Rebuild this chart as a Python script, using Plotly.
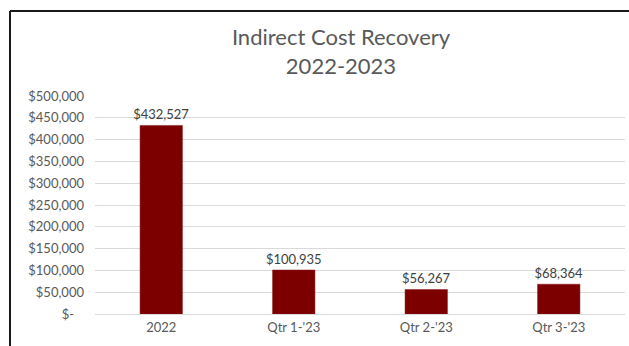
import plotly.graph_objects as go

categories = ["2022", "Qtr 1-'23", "Qtr 2-'23", "Qtr 3-'23"]
values = [432527, 100935, 56267, 68364]
tick_values = [0, 50000, 100000, 150000, 200000, 250000, 300000, 350000, 400000, 450000, 500000]
tick_labels = ["$-\u00a0\u00a0\u00a0", "$50,000", "$100,000", "$150,000", "$200,000", "$250,000",
               "$300,000", "$350,000", "$400,000", "$450,000", "$500,000"]

FONT = "Lato, Open Sans, sans-serif"
GRAY = "#595959"

fig = go.Figure(go.Bar(
    x=categories, y=values,
    width=0.32,
    marker=dict(color="#7D0000", line=dict(color="#8B1A1A", width=0.5)),
    text=[f"${v:,}" for v in values],
    textposition="outside",
    constraintext="none",
    textfont=dict(family=FONT, size=13, color="#404040"),
    cliponaxis=False,
))

L, R, T, B = 95, 4, 96, 32
W, H = 629, 346
pw = W - L - R
ph = H - T - B

fig.update_layout(
    width=W, height=H,
    margin=dict(l=L, r=R, t=T, b=B),
    paper_bgcolor="white", plot_bgcolor="white",
    showlegend=False,
    title=dict(text="Indirect Cost Recovery<br>2022-2023", x=341 / W, xanchor="center",
               y=1 - 45 / H, yanchor="middle",
               font=dict(family=FONT, size=22, color=GRAY)),
    xaxis=dict(showgrid=False, showline=False, ticks="",
               tickfont=dict(family=FONT, size=13, color=GRAY), ticklabelstandoff=4),
    yaxis=dict(range=[0, 500000], tickvals=tick_values, ticktext=tick_labels,
               showgrid=True, gridcolor="#D9D9D9", gridwidth=1,
               zeroline=True, zerolinecolor="#D9D9D9", zerolinewidth=1,
               showline=False, ticks="", ticklabelstandoff=10,
               tickfont=dict(family=FONT, size=13, color=GRAY)),
    shapes=[
        dict(type="line", xref="paper", yref="paper",
             x0=(10 - L) / pw, x1=(10 - L) / pw, y0=-0.5, y1=(H - B - 11) / ph,
             line=dict(color="#1a1a1a", width=2)),
        dict(type="line", xref="paper", yref="paper",
             x0=(10 - L) / pw, x1=(W + 10 - L) / pw, y0=(H - B - 11) / ph, y1=(H - B - 11) / ph,
             line=dict(color="#1a1a1a", width=2)),
    ],
)

fig.write_html("out.html")
